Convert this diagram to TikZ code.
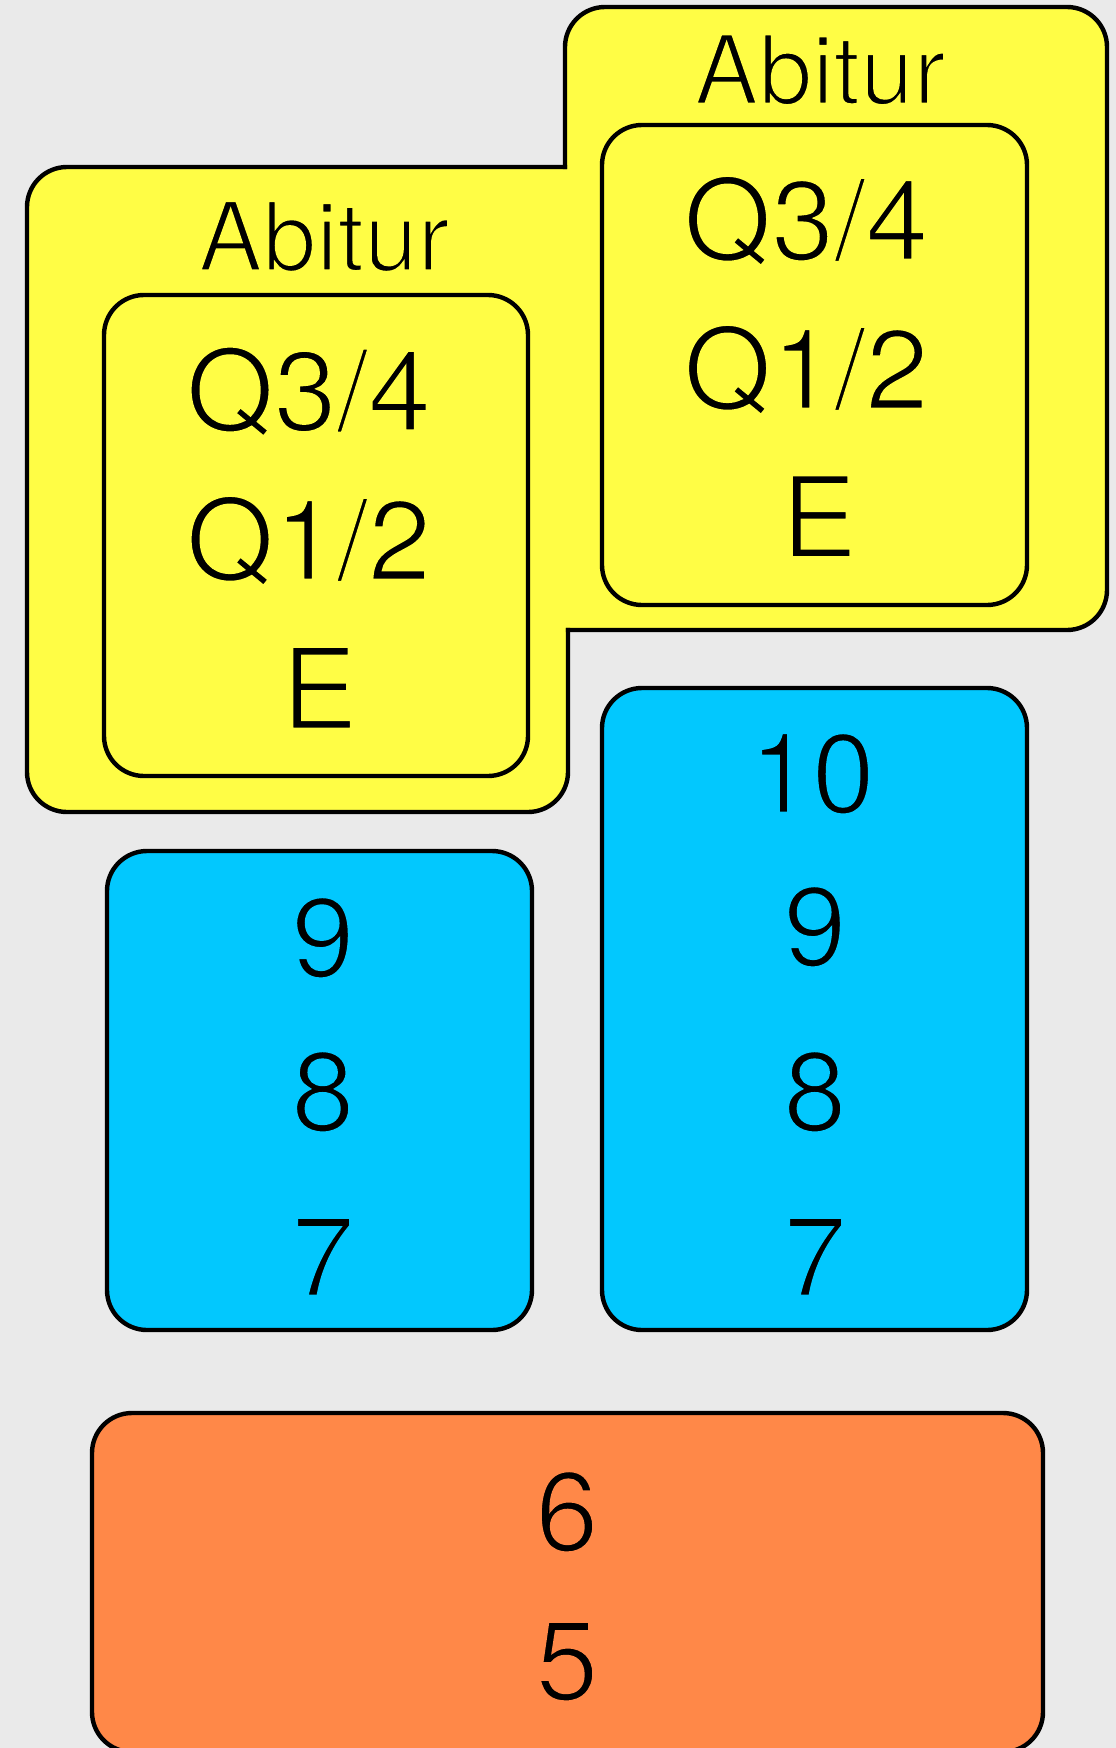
\documentclass[tikz,border=0pt]{standalone}
\usepackage{fontspec}
\setmainfont{TeX Gyre Heros}
\definecolor{bg}{HTML}{EAEAEA}
\definecolor{yel}{HTML}{FFFD45}
\definecolor{blu}{HTML}{02C8FE}
\definecolor{ora}{HTML}{FF8848}
% thin the glyphs by stroking their outlines in the colour behind them
\newcommand\thinY{\special{pdf:literal direct 2 Tr 2.6 w 1 0.992 0.271 RG}}
\newcommand\thinB{\special{pdf:literal direct 2 Tr 2.6 w 0.008 0.784 0.996 RG}}
\newcommand\thinO{\special{pdf:literal direct 2 Tr 2.6 w 1 0.533 0.282 RG}}
\tikzset{
  box/.style={draw=black, line width=4.4pt, rounded corners=40pt, inner sep=0pt, outer sep=0pt},
  big/.style={anchor=base, inner sep=0pt, font=\fontsize{113}{113}\selectfont},
  ttl/.style={anchor=base, inner sep=0pt, font=\fontsize{96}{96}\selectfont},
  outline/.style={draw=black, line width=4.4pt, rounded corners=40pt, line cap=rect}
}
\begin{document}
\begin{tikzpicture}[x=1pt, y=-1pt]
\useasboundingbox (0,0) rectangle (1116,1748);
\clip (0,0) rectangle (1116,1748);
\fill[bg] (0,0) rectangle (1116,1748);
% yellow outer union
\fill[yel, rounded corners=40pt] (27,167) rectangle (568,812);
\fill[yel, rounded corners=40pt] (565,7) rectangle (1107,630);
\fill[yel] (520,167) rectangle (610,630);
\coordinate (ja) at (565,167);
\coordinate (jb) at (568,630);
\draw[outline] (ja) -- (565,7) -- (1107,7) -- (1107,630) -- (jb);
\draw[outline] (jb) -- (568,812) -- (27,812) -- (27,167) -- (ja);
% inner yellow boxes
\node[box, fill=yel, minimum width=424pt, minimum height=481pt] (lin) at (316,535.5) {};
\node[box, fill=yel, minimum width=425pt, minimum height=480pt] (rin) at (814.5,365) {};
% titles
\node[ttl] (labl) at (324,270.7) {\thinY Abitur};
\node[ttl] (labr) at (820,104) {\thinY Abitur};
% left inner texts
\node[big] (lq34) at (308.5,430.7) {\thinY Q3/4};
\node[big] (lq12) at (308.5,580) {\thinY Q1/2};
\node[big] (le) at (319.5,729) {\thinY E};
% right inner texts
\node[big] (rq34) at (806,260) {\thinY Q3/4};
\node[big] (rq12) at (806,409) {\thinY Q1/2};
\node[big] (re) at (819,557.5) {\thinY E};
% blue boxes
\node[box, fill=blu, minimum width=425pt, minimum height=479pt] (lbl) at (319.5,1090.5) {};
\node[box, fill=blu, minimum width=425pt, minimum height=642pt] (rbl) at (814.5,1009) {};
\node[big] (l9) at (323,977) {\thinB 9};
\node[big] (l8) at (323,1131) {\thinB 8};
\node[big] (l7) at (323,1296) {\thinB 7};
\node[big] (r10) at (812,813) {\thinB 10};
\node[big] (r9) at (815,966) {\thinB 9};
\node[big] (r8) at (815,1131) {\thinB 8};
\node[big] (r7) at (815,1296) {\thinB 7};
% orange box
\node[box, fill=ora, minimum width=951pt, minimum height=339pt] (orb) at (567.5,1582.5) {};
\node[big] (o6) at (567,1551) {\thinO 6};
\node[big] (o5) at (567,1700) {\thinO 5};
\end{tikzpicture}
\end{document}
